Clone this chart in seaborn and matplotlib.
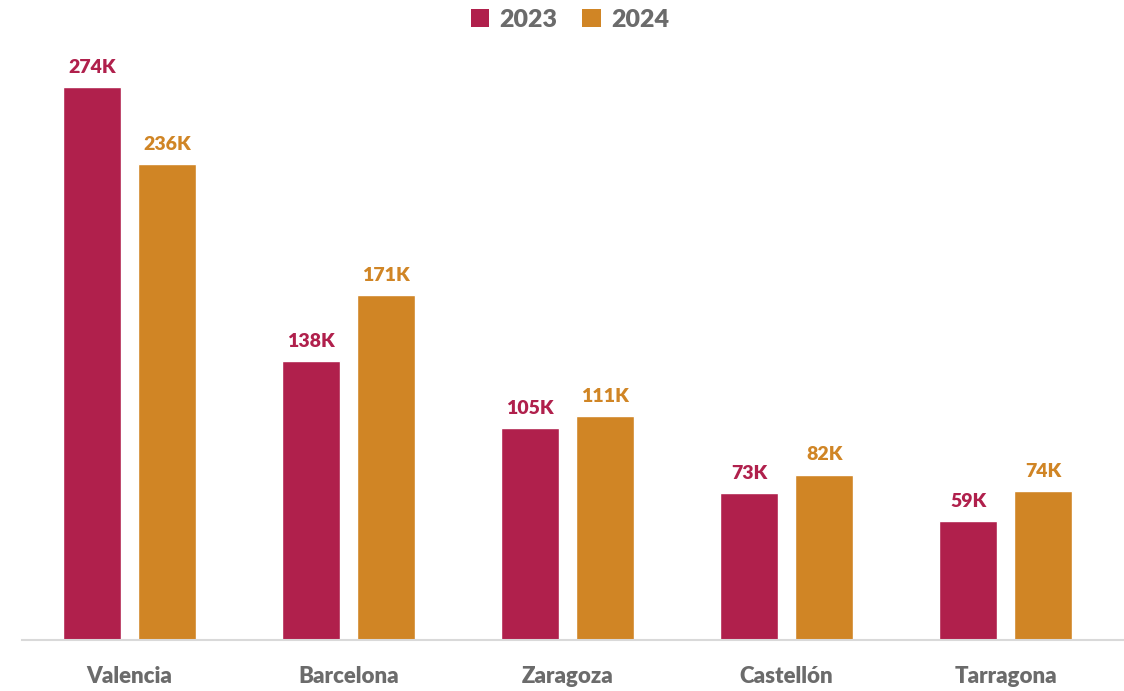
import pandas as pd
import matplotlib.pyplot as plt
import seaborn as sns
from matplotlib.patches import Patch

# ──────────────────────────────
# Data
# ──────────────────────────────
cities = ["Valencia", "Barcelona", "Zaragoza", "Castellón", "Tarragona"]
years = ["2023", "2024"]
values_2023 = [274, 138, 105, 73, 59]
values_2024 = [236, 171, 111, 82, 74]

colors = {"2023": "#B0204C", "2024": "#D08525"}
GREY = "#6B6B6B"

df = pd.DataFrame({
    "city": cities * 2,
    "year": ["2023"] * len(cities) + ["2024"] * len(cities),
    "value": values_2023 + values_2024,
})

sns.set_theme(style="white")
plt.rcParams["font.family"] = ["Lato", "DejaVu Sans"]

fig = plt.figure(figsize=(11.24, 6.91), dpi=100)
ax = fig.add_axes([22 / 1124, 51 / 691, 1 - 22 / 1124, 600 / 691])

sns.barplot(data=df, x="city", y="value", hue="year", hue_order=years,
            palette=colors, width=0.685, gap=0.225, saturation=1,
            legend=False, ax=ax)

# value labels above the bars
for cont, yr in zip(ax.containers, years):
    vals = values_2023 if yr == "2023" else values_2024
    ax.bar_label(cont, labels=[f"{v}K" for v in vals],
                 padding=8, color=colors[yr], fontsize=14, fontweight="heavy")

ax.set_xlim(-0.49, 4.54)
ax.set_ylim(0, 274 * 600 / 553)
ax.set_xlabel("")
ax.set_ylabel("")
ax.set_yticks([])
for s in ["top", "right", "left"]:
    ax.spines[s].set_visible(False)
ax.spines["bottom"].set_color("#D9D9D9")
ax.spines["bottom"].set_linewidth(1.5)
ax.tick_params(axis="x", length=0, pad=19, labelsize=16, labelcolor=GREY)
for t in ax.get_xticklabels():
    t.set_fontweight("heavy")

handles = [Patch(facecolor=colors[y], edgecolor="none") for y in years]
fig.legend(handles, years, loc="upper center", bbox_to_anchor=(0.507, 1.02), ncol=2,
           frameon=False, handlelength=0.75, handleheight=0.75, handletextpad=0.4,
           columnspacing=1.0, prop={"size": 18, "weight": "heavy"}, labelcolor=GREY)

plt.savefig("out.png", dpi=100)
plt.close(fig)
